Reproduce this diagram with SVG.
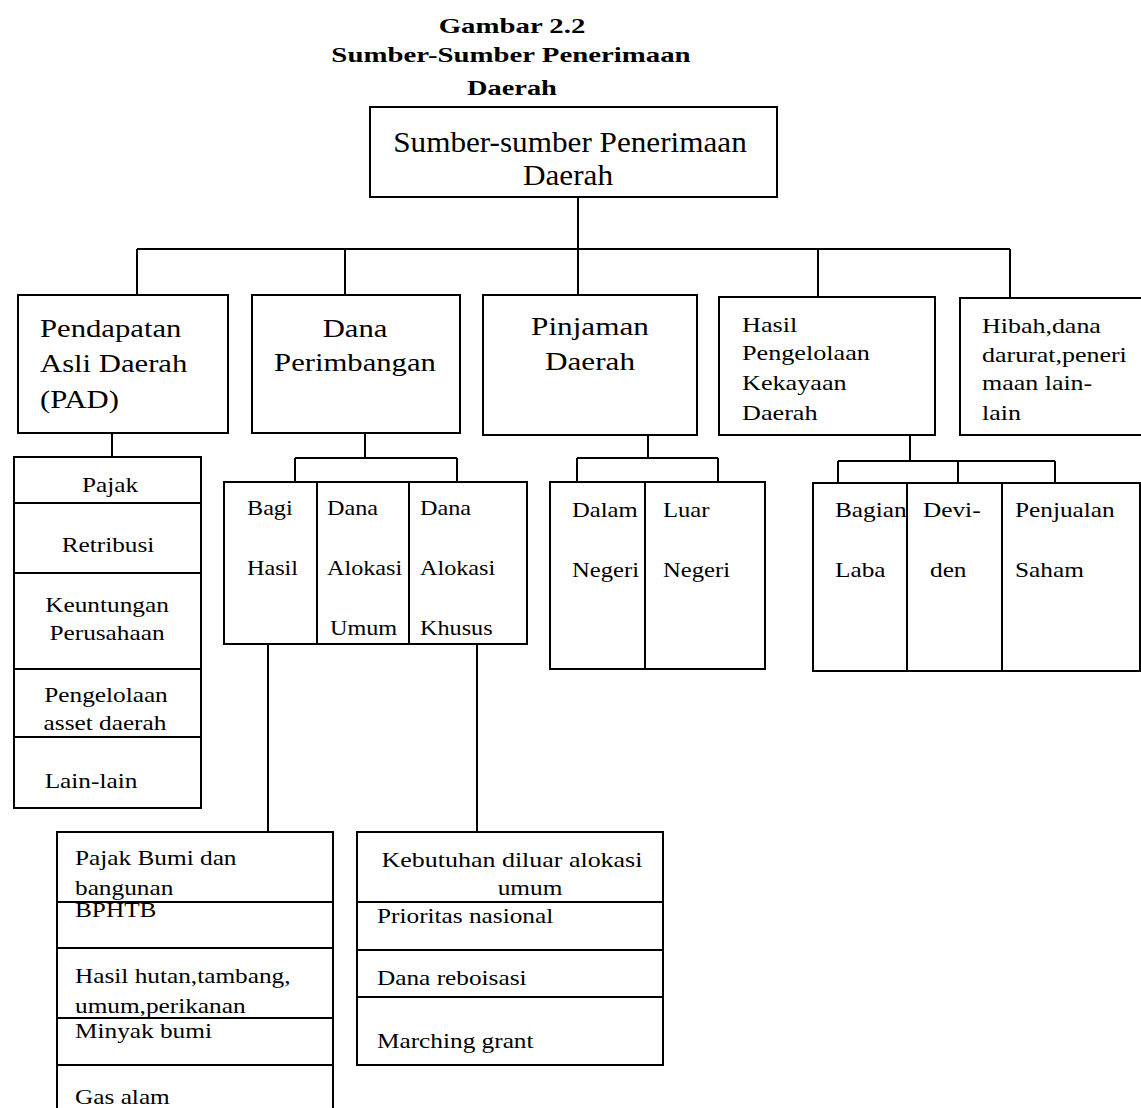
<svg xmlns="http://www.w3.org/2000/svg" width="1141" height="1108" viewBox="0 0 1141 1108">
<style>
text{font-family:"Liberation Serif","Times New Roman",serif;fill:#000}
.ttl{font-size:22px;font-weight:bold;text-anchor:middle}
.top{font-size:30px;text-anchor:middle}
.m{font-size:26px}
.s{font-size:22px}
.c{text-anchor:middle}
.box{fill:#fff;stroke:#000;stroke-width:2}
.ln{fill:none;stroke:#000;stroke-width:2}
</style>
<rect width="1141" height="1108" fill="#fff"/>
<g id="title">
<text class="ttl" transform="translate(512 33) scale(1.31 1)">Gambar 2.2</text>
<text class="ttl" transform="translate(511 62) scale(1.31 1)">Sumber-Sumber Penerimaan</text>
<text class="ttl" transform="translate(512 95) scale(1.29 1)">Daerah</text>
</g>
<g id="connectors" class="ln">
<path d="M578 197V249M137 249H1010M137 249V295M345 249V295M578 249V295M818 249V297M1010 249V298"/>
<path d="M112 433V457"/>
<path d="M365 433V458M295 458H457M295 458V482M457 458V482"/>
<path d="M268 644V832M477 644V832"/>
<path d="M648 435V458M577 458H718M577 458V482M718 458V482"/>
<path d="M910 435V461M838 461H1055M838 461V483M958 461V483M1055 461V483"/>
</g>
<g id="root">
<rect class="box" x="370" y="107" width="407" height="90"/>
<text class="top" transform="translate(570 152) scale(1.04 1)">Sumber-sumber Penerimaan</text>
<text class="top" transform="translate(568 185) scale(1.04 1)">Daerah</text>
</g>
<g id="pad">
<rect class="box" x="18" y="295" width="210" height="138"/>
<text class="m" transform="translate(40 337) scale(1.18 1)">Pendapatan</text>
<text class="m" transform="translate(40 372) scale(1.18 1)">Asli Daerah</text>
<text class="m" transform="translate(40 408) scale(1.18 1)">(PAD)</text>
</g>
<g id="dana">
<rect class="box" x="252" y="295" width="208" height="138"/>
<text class="m c" transform="translate(355 337) scale(1.18 1)">Dana</text>
<text class="m c" transform="translate(355 371) scale(1.18 1)">Perimbangan</text>
</g>
<g id="pinjaman">
<rect class="box" x="483" y="295" width="214" height="140"/>
<text class="m c" transform="translate(590 335) scale(1.2 1)">Pinjaman</text>
<text class="m c" transform="translate(590 370) scale(1.2 1)">Daerah</text>
</g>
<g id="hasil">
<rect class="box" x="719" y="297" width="216" height="138"/>
<text class="s" transform="translate(742 332) scale(1.19 1)">Hasil</text>
<text class="s" transform="translate(742 360) scale(1.19 1)">Pengelolaan</text>
<text class="s" transform="translate(742 390) scale(1.19 1)">Kekayaan</text>
<text class="s" transform="translate(742 420) scale(1.19 1)">Daerah</text>
</g>
<g id="hibah">
<rect class="box" x="960" y="298" width="190" height="137"/>
<text class="s" transform="translate(982 333) scale(1.18 1)">Hibah,dana</text>
<text class="s" transform="translate(982 362) scale(1.18 1)">darurat,peneri</text>
<text class="s" transform="translate(982 390) scale(1.18 1)">maan lain-</text>
<text class="s" transform="translate(982 420) scale(1.18 1)">lain</text>
</g>
<g id="pad-list">
<rect class="box" x="14" y="457" width="187" height="351"/>
<path class="ln" d="M14 503H201M14 573H201M14 669H201M14 737H201"/>
<text class="s c" transform="translate(110 492) scale(1.15 1)">Pajak</text>
<text class="s c" transform="translate(108 552) scale(1.15 1)">Retribusi</text>
<text class="s c" transform="translate(107 612) scale(1.15 1)">Keuntungan</text>
<text class="s c" transform="translate(107 640) scale(1.15 1)">Perusahaan</text>
<text class="s c" transform="translate(106 702) scale(1.15 1)">Pengelolaan</text>
<text class="s c" transform="translate(105 730) scale(1.15 1)">asset daerah</text>
<text class="s c" transform="translate(91 788) scale(1.15 1)">Lain-lain</text>
</g>
<g id="dana-sub">
<rect class="box" x="224" y="482" width="303" height="162"/>
<path class="ln" d="M317 482V644M409 482V644"/>
<text class="s" transform="translate(247 515) scale(1.1 1)">Bagi</text>
<text class="s" transform="translate(247 575) scale(1.1 1)">Hasil</text>
<text class="s" transform="translate(327 515) scale(1.1 1)">Dana</text>
<text class="s" transform="translate(327 575) scale(1.1 1)">Alokasi</text>
<text class="s" transform="translate(330 635) scale(1.1 1)">Umum</text>
<text class="s" transform="translate(420 515) scale(1.1 1)">Dana</text>
<text class="s" transform="translate(420 575) scale(1.1 1)">Alokasi</text>
<text class="s" transform="translate(420 635) scale(1.1 1)">Khusus</text>
</g>
<g id="pinjaman-sub">
<rect class="box" x="550" y="482" width="215" height="187"/>
<path class="ln" d="M645 482V669"/>
<text class="s" transform="translate(572 517) scale(1.12 1)">Dalam</text>
<text class="s" transform="translate(572 577) scale(1.12 1)">Negeri</text>
<text class="s" transform="translate(663 517) scale(1.12 1)">Luar</text>
<text class="s" transform="translate(663 577) scale(1.12 1)">Negeri</text>
</g>
<g id="hasil-sub">
<rect class="box" x="813" y="483" width="327" height="188"/>
<path class="ln" d="M907 483V671M1002 483V671"/>
<text class="s" transform="translate(835 517) scale(1.15 1)">Bagian</text>
<text class="s" transform="translate(835 577) scale(1.15 1)">Laba</text>
<rect x="906" y="495" width="2" height="30" fill="#000"/>
<text class="s" transform="translate(923 517) scale(1.15 1)">Devi-</text>
<text class="s" transform="translate(930 577) scale(1.15 1)">den</text>
<text class="s" transform="translate(1015 517) scale(1.15 1)">Penjualan</text>
<text class="s" transform="translate(1015 577) scale(1.15 1)">Saham</text>
</g>
<g id="bagi-hasil-list">
<path class="box" d="M57 1112V832H333V1112"/>
<path class="ln" d="M57 902H333M57 948H333M57 1018H333M57 1065H333"/>
<text class="s" transform="translate(75 865) scale(1.15 1)">Pajak Bumi dan</text>
<text class="s" transform="translate(75 895) scale(1.15 1)">bangunan</text>
<text class="s" transform="translate(75 917) scale(1.15 1)">BPHTB</text>
<text class="s" transform="translate(75 983) scale(1.15 1)">Hasil hutan,tambang,</text>
<text class="s" transform="translate(75 1013) scale(1.15 1)">umum,perikanan</text>
<text class="s" transform="translate(75 1038) scale(1.15 1)">Minyak bumi</text>
<text class="s" transform="translate(75 1104) scale(1.15 1)">Gas alam</text>
</g>
<g id="khusus-list">
<rect class="box" x="357" y="832" width="306" height="233"/>
<path class="ln" d="M357 902H663M357 950H663M357 997H663"/>
<text class="s c" transform="translate(512 867) scale(1.18 1)">Kebutuhan diluar alokasi</text>
<text class="s c" transform="translate(530 895) scale(1.15 1)">umum</text>
<text class="s" transform="translate(377 923) scale(1.15 1)">Prioritas nasional</text>
<text class="s" transform="translate(377 985) scale(1.15 1)">Dana reboisasi</text>
<text class="s" transform="translate(377 1048) scale(1.15 1)">Marching grant</text>
</g>
</svg>
